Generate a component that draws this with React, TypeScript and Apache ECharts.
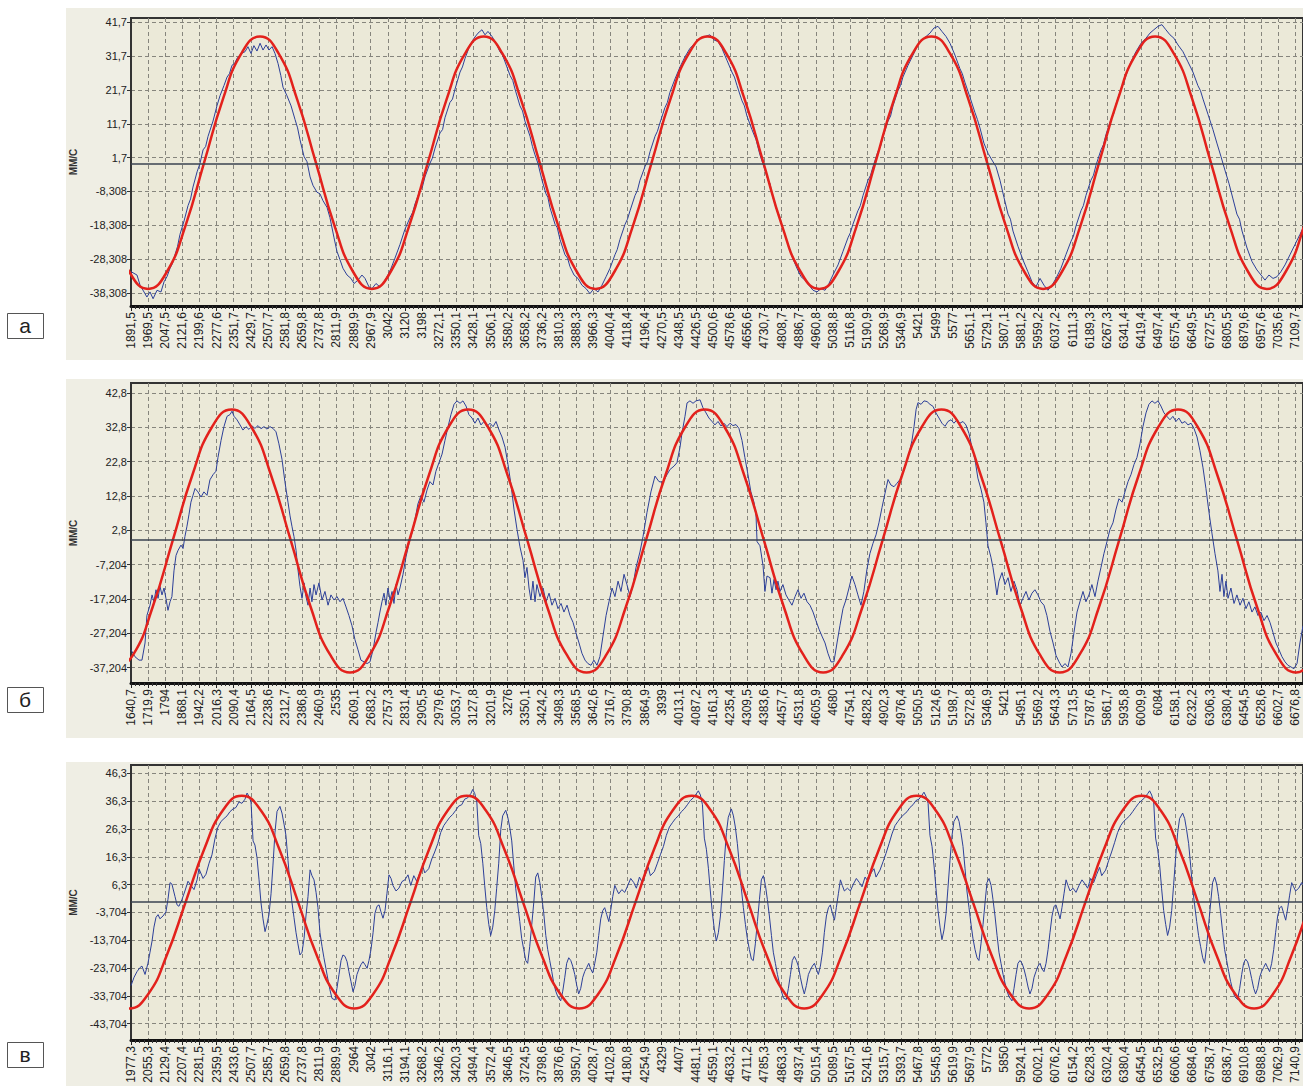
import React, { useEffect, useRef } from "react";
import * as echarts from "echarts";

// ---------- DATA ----------
const xLabelsA = ["1891,5","1969,5","2047,5","2121,6","2199,6","2277,6","2351,7","2429,7","2507,7","2581,8","2659,8","2737,8","2811,9","2889,9","2967,9","3042","3120","3198","3272,1","3350,1","3428,1","3506,1","3580,2","3658,2","3736,2","3810,3","3888,3","3966,3","4040,4","4118,4","4196,4","4270,5","4348,5","4426,5","4500,6","4578,6","4656,6","4730,7","4808,7","4886,7","4960,8","5038,8","5116,8","5190,9","5268,9","5346,9","5421","5499","5577","5651,1","5729,1","5807,1","5881,2","5959,2","6037,2","6111,3","6189,3","6267,3","6341,4","6419,4","6497,4","6575,4","6649,5","6727,5","6805,5","6879,6","6957,6","7035,6","7109,7"];
const xLabelsB = ["1640,7","1719,9","1794","1868,1","1942,2","2016,3","2090,4","2164,5","2238,6","2312,7","2386,8","2460,9","2535","2609,1","2683,2","2757,3","2831,4","2905,5","2979,6","3053,7","3127,8","3201,9","3276","3350,1","3424,2","3498,3","3568,5","3642,6","3716,7","3790,8","3864,9","3939","4013,1","4087,2","4161,3","4235,4","4309,5","4383,6","4457,7","4531,8","4605,9","4680","4754,1","4828,2","4902,3","4976,4","5050,5","5124,6","5198,7","5272,8","5346,9","5421","5495,1","5569,2","5643,3","5713,5","5787,6","5861,7","5935,8","6009,9","6084","6158,1","6232,2","6306,3","6380,4","6454,5","6528,6","6602,7","6676,8"];
const xLabelsC = ["1977,3","2055,3","2129,4","2207,4","2281,5","2359,5","2433,6","2507,7","2585,7","2659,8","2737,8","2811,9","2889,9","2964","3042","3116,1","3194,1","3268,2","3346,2","3420,3","3494,4","3572,4","3646,5","3724,5","3798,6","3876,6","3950,7","4028,7","4102,8","4180,8","4254,9","4329","4407","4481,1","4559,1","4633,2","4711,2","4785,3","4863,3","4937,4","5015,4","5089,5","5167,5","5241,6","5315,7","5393,7","5467,8","5545,8","5619,9","5697,9","5772","5850","5924,1","6002,1","6076,2","6154,2","6228,3","6302,4","6380,4","6454,5","6532,5","6606,6","6684,6","6758,7","6836,7","6910,8","6988,8","7062,9","7140,9"];

const yTicksA = [41.7, 31.7, 21.7, 11.7, 1.7, -8.308, -18.308, -28.308, -38.308];
const yTicksB = [42.8, 32.8, 22.8, 12.8, 2.8, -7.204, -17.204, -27.204, -37.204];
const yTicksC = [46.3, 36.3, 26.3, 16.3, 6.3, -3.704, -13.704, -23.704, -33.704, -43.704];

const yRangeA = [-42.15, 42.97];
const yRangeB = [-41.66, 45.71];
const yRangeC = [-49.56, 49.28];
const xMax = 68.46;

const panelLetters = ["а", "б", "в"];
const yAxisName = "ММ/С";

// red reference sinusoids, read every 30 degrees of phase
const redA = [[-1.18,-18.45],[-0.09,-32.1],[1.00,-37.1],[2.09,-32.1],[3.18,-18.45],[4.27,0.2],[5.36,18.85],[6.45,32.5],[7.54,37.5],[8.62,32.5],[9.71,18.85],[10.80,0.2],[11.89,-18.45],[12.98,-32.1],
[14.07,-37.1],[15.16,-32.1],[16.25,-18.45],[17.34,0.2],[18.43,18.85],[19.52,32.5],[20.61,37.5],[21.69,32.5],[22.78,18.85],[23.87,0.2],[24.96,-18.45],[26.05,-32.1],
[27.14,-37.1],[28.23,-32.1],[29.32,-18.45],[30.41,0.2],[31.50,18.85],[32.59,32.5],[33.68,37.5],[34.77,32.5],[35.85,18.85],[36.94,0.2],[38.03,-18.45],[39.12,-32.1],
[40.21,-37.1],[41.30,-32.1],[42.39,-18.45],[43.48,0.2],[44.57,18.85],[45.66,32.5],[46.75,37.5],[47.84,32.5],[48.92,18.85],[50.01,0.2],[51.10,-18.45],[52.19,-32.1],
[53.28,-37.1],[54.37,-32.1],[55.46,-18.45],[56.55,0.2],[57.64,18.85],[58.73,32.5],[59.82,37.5],[60.91,32.5],[62.00,18.85],[63.08,0.2],[64.17,-18.45],[65.26,-32.1],
[66.35,-37.1],[67.44,-32.1],[68.53,-18.45],[69.62,0.2]];
const redB = [[-1.03,-38.6],[0.12,-33.5],[1.27,-19.45],[2.43,-0.3],[3.58,18.85],[4.73,32.9],[5.88,38.0],[7.03,32.9],[8.18,18.85],[9.34,-0.3],[10.49,-19.45],[11.64,-33.5],
[12.79,-38.6],[13.94,-33.5],[15.09,-19.45],[16.25,-0.3],[17.40,18.85],[18.55,32.9],[19.70,38.0],[20.85,32.9],[22.00,18.85],[23.16,-0.3],[24.31,-19.45],[25.46,-33.5],
[26.61,-38.6],[27.76,-33.5],[28.91,-19.45],[30.07,-0.3],[31.22,18.85],[32.37,32.9],[33.52,38.0],[34.67,32.9],[35.82,18.85],[36.98,-0.3],[38.13,-19.45],[39.28,-33.5],
[40.43,-38.6],[41.58,-33.5],[42.73,-19.45],[43.89,-0.3],[45.04,18.85],[46.19,32.9],[47.34,38.0],[48.49,32.9],[49.64,18.85],[50.80,-0.3],[51.95,-19.45],[53.10,-33.5],
[54.25,-38.6],[55.40,-33.5],[56.55,-19.45],[57.71,-0.3],[58.86,18.85],[60.01,32.9],[61.16,38.0],[62.31,32.9],[63.46,18.85],[64.62,-0.3],[65.77,-19.45],[66.92,-33.5],
[68.07,-38.6],[69.22,-33.5]];
const redC = [[-1.20,-33.1],[-0.10,-38.2],[1.00,-33.1],[2.09,-19.1],[3.19,0],[4.28,19.1],[5.38,33.1],[6.47,38.2],[7.57,33.1],[8.66,19.1],[9.76,0],[10.85,-19.1],[11.95,-33.1],
[13.04,-38.2],[14.14,-33.1],[15.23,-19.1],[16.33,0],[17.42,19.1],[18.52,33.1],[19.61,38.2],[20.71,33.1],[21.80,19.1],[22.90,0],[23.99,-19.1],[25.09,-33.1],
[26.18,-38.2],[27.28,-33.1],[28.37,-19.1],[29.47,0],[30.56,19.1],[31.66,33.1],[32.75,38.2],[33.85,33.1],[34.94,19.1],[36.04,0],[37.13,-19.1],[38.23,-33.1],
[39.32,-38.2],[40.42,-33.1],[41.51,-19.1],[42.61,0],[43.70,19.1],[44.80,33.1],[45.89,38.2],[46.99,33.1],[48.08,19.1],[49.18,0],[50.27,-19.1],[51.37,-33.1],
[52.46,-38.2],[53.56,-33.1],[54.65,-19.1],[55.75,0],[56.84,19.1],[57.94,33.1],[59.03,38.2],[60.13,33.1],[61.22,19.1],[62.32,0],[63.41,-19.1],[64.51,-33.1],
[65.60,-38.2],[66.70,-33.1],[67.79,-19.1],[68.89,0],[69.98,19.1]];

// measured signals
const blueA = [[0.00,-32],[0.35,-33],[0.53,-36],[0.76,-38],[0.93,-39.5],[1.11,-38],[1.29,-40],[1.52,-37.5],[1.75,-38],[1.93,-35],[2.1,-33.5],[2.28,-31],[2.43,-29.5],[2.57,-27],[2.72,-24.5],[2.86,-21],[3.10,-17],[3.33,-12.5],[3.48,-10.5],[3.62,-7],[3.86,-2.5],[4.03,0],[4.21,4],[4.36,5],[4.50,8],[4.79,12.5],[5.02,17],[5.20,20],[5.43,23],[5.61,25.5],[5.75,26.5],[5.90,29],[6.05,29.5],[6.19,31],[6.43,32.5],[6.66,33],[6.83,34.5],[7.01,32.5],[7.18,34.8],[7.36,33.2],[7.54,35.5],[7.71,33.5],[7.89,35],[8.06,33.5],[8.24,34.5],[8.41,32.5],[8.59,29.5],[8.75,26],[8.88,22.5],[9.11,20],[9.35,17],[9.58,13],[9.73,10.5],[9.87,7],[10.11,2],[10.28,0.5],[10.46,-4],[10.63,-6.5],[10.86,-8.5],[11.04,-9],[11.21,-11],[11.45,-13],[11.62,-16],[11.86,-22],[12.03,-26],[12.21,-28.5],[12.38,-31],[12.62,-33],[12.85,-34],[13.03,-35.5],[13.26,-34.5],[13.49,-33],[13.67,-34],[13.90,-36.5],[14.08,-37],[14.31,-35.5],[14.54,-36.5],[14.78,-35],[15.01,-33],[15.19,-31],[15.42,-28],[15.71,-24],[16.00,-19.5],
[16.30,-16],[16.45,-14.5],[16.59,-12],[16.88,-8],[17.02,-7],[17.17,-4],[17.46,0],[17.6,1.5],[17.76,4.5],[18.05,9],[18.2,10],[18.34,13.5],[18.63,18],[18.78,19],[18.93,22],[19.22,27],[19.36,28.5],[19.51,31],[19.80,35],[20.04,37],[20.27,38.5],[20.5,39.5],[20.68,38],[20.85,39],[21.09,37.5],[21.32,35.5],[21.55,33],[21.7,32],[21.85,30],[22.14,26],[22.3,24.5],[22.43,22],[22.72,17],[22.87,15.5],[23.01,12.5],[23.31,8],[23.45,5],[23.6,2.5],[23.77,0],[24.01,-5],[24.24,-9],[24.35,-10],[24.47,-13],[24.77,-18],[24.9,-19],[25.06,-22.5],[25.35,-27],[25.5,-28],[25.64,-30.5],[25.88,-33],[26.11,-34],[26.34,-36],[26.58,-37],[26.81,-38.5],[27.04,-37],[27.28,-38],[27.51,-36],[27.75,-33.5],[27.98,-31],[28.27,-27],[28.4,-25.5],[28.56,-22.5],
[28.86,-18],[29.0,-16.5],[29.15,-14],[29.44,-9.5],[29.58,-8],[29.73,-5],[30.02,-1],[30.17,0.5],[30.32,3.5],[30.61,8],[30.75,9.5],[30.9,12],[31.19,16.5],[31.33,18],[31.48,21],[31.78,25],[32.07,28.5],[32.36,31.5],[32.65,34],[32.94,35.5],[33.24,37],[33.53,37.5],[33.82,38],[34.05,36.5],[34.29,36],[34.52,34],[34.81,30.5],[35.10,27],[35.25,25.5],[35.40,23],[35.69,18.5],[35.83,17],[35.98,14],[36.27,10],[36.51,7],[36.74,2.5],[36.97,-1],[37.21,-5],[37.33,-6],[37.44,-9],[37.73,-14],[37.88,-15.5],[38.03,-18.5],[38.32,-23],[38.61,-27.5],[38.9,-31],[39.14,-33.5],[39.37,-34.5],[39.6,-36],[39.84,-37.5],[40.07,-38],[40.3,-37],[40.54,-37.5],[40.77,-35.5],[41.0,-33],[41.3,-30],[41.59,-26],
[41.88,-22],[42.02,-20.5],[42.17,-18],[42.46,-14],[42.6,-12.5],[42.76,-9.5],[43.05,-5],[43.2,-3.5],[43.34,-1],[43.63,3.5],[43.78,5],[43.93,8],[44.22,12.5],[44.37,14],[44.51,17],[44.8,21.5],[44.95,23],[45.09,25.5],[45.39,29],[45.68,32],[45.97,35],[46.2,36.5],[46.44,37.5],[46.67,38.5],[46.9,40],[47.14,40.5],[47.37,39],[47.61,37.5],[47.84,35.5],[48.13,32],[48.42,28],[48.56,26.5],[48.71,24],[49.01,19.5],[49.3,15],[49.44,13],[49.59,10.5],[49.82,6],[50.06,3],[50.29,1],[50.53,-1],[50.76,-5],[50.99,-10],[51.23,-15],[51.37,-16.5],[51.52,-20],[51.81,-24.5],[52.1,-28.5],[52.39,-32],[52.63,-35],[52.86,-36.5],[53.1,-34],[53.33,-36],[53.56,-37.5],[53.8,-36],[54.03,-34],[54.32,-31],[54.61,-27],
[54.91,-23],[55.05,-21.5],[55.2,-18.5],[55.49,-14],[55.63,-12.5],[55.78,-9.5],[56.07,-5],[56.22,-3.5],[56.37,-0.5],[56.66,4],[56.8,5.5],[56.95,8.5],[57.24,13],[57.39,14.5],[57.54,17.5],[57.83,22],[57.97,23.5],[58.12,26],[58.41,30],[58.7,33],[59.0,35.5],[59.29,37],[59.52,38.5],[59.75,39.5],[59.99,40.5],[60.22,41],[60.45,39.5],[60.69,38],[60.92,37],[61.16,35],[61.45,33],[61.74,30],[62.03,27],[62.32,23],[62.47,21.5],[62.62,19],[62.91,14.5],[63.2,10],[63.43,6],[63.67,2],[63.9,-2],[64.14,-6],[64.37,-10.5],[64.6,-15],[64.75,-16.5],[64.9,-20],[65.19,-25],[65.48,-29],[65.77,-31.5],[66.01,-33],[66.24,-34.5],[66.47,-33],[66.71,-34],[66.94,-33.5],[67.17,-32],[67.41,-30],[67.7,-27],[67.99,-24],[68.28,-21],[68.57,-18]];

const blueB = [[0.00,-32],[0.23,-34],[0.47,-35],[0.64,-35],[0.82,-30],[0.93,-22],[1.11,-19],[1.23,-16],[1.34,-18],[1.46,-14.5],[1.58,-17],[1.69,-13.5],[1.81,-16],[1.93,-14],[2.04,-17],[2.16,-20.5],[2.28,-18],[2.39,-16.5],[2.51,-9],[2.63,-4.5],[2.75,-3],[2.92,-1.5],[3.04,-2.5],[3.15,1],[3.27,4],[3.39,7.5],[3.50,11],[3.62,13],[3.74,15],[3.91,14],[4.09,12.5],[4.26,14],[4.44,13],[4.61,17.5],[4.79,19],[4.96,20],[5.08,24],[5.26,29],[5.43,33],[5.61,36],[5.78,36.5],[5.90,37.5],[6.02,36],[6.19,35],[6.37,33.5],[6.54,32],[6.72,33],[6.89,32.2],[7.07,33.2],[7.24,32.5],[7.42,33.3],[7.59,32.4],[7.77,33],[7.94,32.3],[8.12,33],[8.29,32.5],[8.47,31.5],[8.64,28],[8.82,23.5],[8.99,17],[9.17,11],[9.29,7],[9.40,4],[9.52,1],[9.64,-3],[9.75,-8.5],[9.87,-13.5],[9.99,-17],[10.11,-12.5],[10.22,-16.5],[10.34,-19],[10.46,-14],[10.57,-18],[10.69,-13],[10.81,-16],[10.98,-12.5],[11.16,-17.5],[11.33,-15],[11.51,-19],[11.68,-16],[11.86,-17.5],[12.03,-16.5],[12.21,-18],[12.38,-17],[12.56,-19.5],[12.73,-22],[12.91,-25],[13.08,-29],[13.26,-32],[13.43,-35],[13.61,-35.5],[13.79,-36],[13.96,-35.5],[14.14,-32],[14.31,-27],[14.43,-24],[14.54,-21],[14.66,-18],[14.78,-15.5],[14.89,-19],[15.01,-14],[15.13,-17.5],[15.25,-15],[15.36,-18.5],[15.48,-13],[15.60,-16],[15.71,-14],
[15.89,-10],[16.06,-5],[16.24,-1],[16.41,2],[16.59,6],[16.76,10.5],[16.94,13],[17.11,11],[17.29,14.5],[17.46,17],[17.64,16],[17.81,20],[17.99,22.5],[18.17,25],[18.34,29],[18.52,33],[18.69,36.5],[18.87,39.5],[19.04,40.5],[19.22,39.8],[19.39,40.5],[19.57,39],[19.74,36.5],[19.92,35.5],[20.09,34],[20.27,35.5],[20.44,33.5],[20.62,34.5],[20.79,33],[20.97,34],[21.15,33],[21.32,34.5],[21.50,32],[21.67,30],[21.85,27],[22.02,22],[22.20,16],[22.37,9],[22.55,3],[22.72,-2],[22.90,-6],[23.01,-11],[23.13,-8],[23.25,-14],[23.36,-17.5],[23.48,-12],[23.60,-18],[23.71,-13],[23.89,-16.5],[24.07,-14],[24.24,-18],[24.42,-15.5],[24.59,-19],[24.77,-17],[24.94,-20],[25.12,-18.5],[25.29,-21],[25.47,-19],[25.64,-22],[25.82,-24],[25.99,-27],[26.17,-30],[26.34,-33],[26.52,-35],[26.69,-36],[26.87,-36.5],[27.04,-35],[27.22,-36.5],[27.39,-34],[27.57,-28],[27.75,-22],[27.92,-18],[28.10,-14],[28.27,-16.5],[28.45,-12],[28.62,-15],[28.80,-10],[28.97,-13],[29.15,-16.5],[29.33,-13],[29.50,-8],[29.73,-3.5],
[29.91,1],[30.14,8],[30.37,14],[30.61,18.6],[30.84,17],[31.07,16.8],[31.31,19],[31.48,20.5],[31.72,21.5],[31.89,22.5],[32.07,27],[32.18,31],[32.36,36],[32.48,39.9],[32.65,40.5],[32.83,39.8],[33.00,40.5],[33.24,40.8],[33.41,38.5],[33.59,37],[33.76,35.5],[33.94,34.5],[34.11,33.5],[34.29,34.5],[34.46,33.2],[34.64,34],[34.81,33],[34.99,34],[35.16,33.3],[35.34,33.6],[35.51,32.5],[35.69,29],[35.86,24],[36.04,19],[36.21,14],[36.39,11],[36.51,7],[36.57,-0.5],[36.74,-1.7],[36.92,-7.5],[37.03,-15],[37.15,-10.5],[37.33,-11],[37.44,-15.5],[37.56,-11.5],[37.68,-14.5],[37.79,-12],[37.91,-15],[38.08,-13],[38.26,-16],[38.43,-17.5],[38.61,-19],[38.79,-16.5],[38.96,-14.5],[39.14,-17],[39.31,-15.5],[39.49,-18],[39.66,-19],[39.84,-21],[40.01,-23.5],[40.19,-26],[40.36,-28],[40.54,-30],[40.71,-33],[40.89,-35.5],[41.06,-35.5],[41.24,-30],[41.41,-25],[41.59,-20],[41.76,-17.5],[41.94,-14],[42.11,-10.5],[42.29,-13],[42.46,-16],[42.64,-19],[42.81,-15],[42.99,-8.5],[43.16,-4],[43.34,-1],[43.52,1.5],[43.69,5],[43.87,9.5],[44.04,13.5],[44.22,17.6],[44.39,16],[44.57,15.5],[44.74,16.5],[44.92,17.6],[45.09,19.5],[45.27,22],[45.44,25],[45.62,29],[45.74,33],[45.86,38],[45.97,40],[46.15,39.5],[46.32,40.5],[46.50,40.3],[46.67,39.5],[46.85,38.9],[47.02,37],[47.20,35.5],[47.37,34],[47.55,33.1],[47.72,34.5],[47.90,35],[48.07,34],[48.25,35],[48.42,34],[48.60,34.5],[48.77,33.5],[48.95,31],[49.12,27],[49.30,23.4],[49.47,18],[49.65,14.8],[49.82,11],[49.94,5],[50.06,-1.7],[50.23,-5],[50.35,-8],[50.47,-12],[50.58,-16],[50.70,-12],[50.88,-9.5],[51.05,-13],[51.23,-11],[51.40,-15],[51.58,-12],[51.75,-14.5],[51.93,-19],[52.10,-17],[52.28,-15],[52.45,-17.5],[52.63,-15.5],[52.80,-14.5],[52.98,-16],[53.15,-18],[53.33,-19],[53.50,-22],[53.68,-26.6],[53.86,-30],[54.03,-33.6],[54.21,-35.5],[54.38,-37],[54.56,-36],[54.73,-37],[54.91,-33],[55.08,-27],[55.26,-21],[55.43,-18],[55.61,-15],[55.78,-18],[55.96,-16],[56.13,-13],[56.31,-16.5],[56.48,-12],[56.66,-8],[56.83,-4],[57.01,-0.5],[57.18,3],[57.36,5],[57.54,9],[57.71,12],[57.89,11],[58.06,14],[58.24,17],[58.41,19],[58.59,22],[58.76,24],[58.94,28],[59.11,33],[59.29,37],[59.46,39.5],[59.64,40.5],[59.81,39.8],[59.99,40.5],[60.16,39],[60.34,37],[60.51,36],[60.69,35],[60.86,36],[61.04,34.5],[61.21,35.5],[61.39,34],[61.57,34.5],[61.74,33.5],[61.92,34],[62.09,32.5],[62.27,30],[62.44,26],[62.62,21],[62.79,15],[62.97,8],[63.14,2],[63.32,-4],[63.49,-9],[63.61,-15],[63.73,-10],[63.84,-16.5],[63.96,-12],[64.08,-17],[64.25,-14],[64.43,-18.5],[64.60,-16],[64.78,-19],[64.95,-17],[65.13,-20],[65.30,-18],[65.48,-21],[65.65,-19.5],[65.83,-22],[66.00,-21],[66.18,-23.5],[66.36,-22],[66.53,-24],[66.71,-27],[66.88,-30],[67.06,-32],[67.23,-34],[67.41,-35.5],[67.58,-36.5],[67.76,-37],[67.93,-37.5],[68.11,-36],[68.28,-30],[68.46,-25]];

const blueC = [[0.00,-30],[0.18,-27],[0.35,-25],[0.53,-23.5],[0.64,-23],[0.82,-26],[0.99,-22],[1.11,-18],[1.23,-14],[1.34,-9],[1.46,-5.5],[1.58,-4.5],[1.69,-6],[1.87,-5],[2.04,-3.5],[2.16,1],[2.28,7],[2.39,6.5],[2.57,2],[2.69,-1],[2.80,-1.5],[2.98,1],[3.15,4],[3.33,7.5],[3.50,6],[3.68,4.5],[3.86,8],[3.97,12],[4.21,8.5],[4.38,10],[4.56,14],[4.73,17],[4.91,23],[5.08,27],[5.26,29],[5.43,30],[5.61,31],[5.78,32.5],[5.96,33.5],[6.13,34],[6.31,36],[6.48,35.5],[6.66,37],[6.78,39.2],[6.89,38],[7.01,36],[7.13,22],[7.24,20.5],[7.36,16],[7.48,8],[7.59,0],[7.71,-6],[7.83,-10.6],[7.94,-8],[8.06,-4.5],[8.18,3],[8.29,13],[8.41,25],[8.53,32.6],[8.70,34.4],[8.82,32],[8.94,28],[9.05,24],[9.17,15],[9.29,6.5],[9.40,0],[9.52,-5.5],[9.64,-11],[9.75,-15],[9.87,-19],[9.99,-18],[10.11,-13],[10.22,-5],[10.34,2],[10.46,11.6],[10.57,9.5],[10.69,8],[10.81,3.5],[10.92,-2],[11.04,-11],[11.16,-16],[11.27,-20],[11.39,-24],[11.51,-28],[11.62,-31.5],[11.74,-34.6],[11.92,-35.2],[12.03,-31],[12.15,-26],[12.27,-21],[12.38,-19],[12.50,-19.5],[12.62,-21.4],[12.73,-25],[12.85,-28.6],[12.97,-32.2],[13.08,-30],[13.20,-26],[13.32,-24],[13.43,-22.5],[13.55,-21.4],[13.67,-22.5],[13.79,-23.8],[13.90,-21],[14.02,-17],[14.14,-11],[14.25,-4],[14.37,-1.5],[14.49,-1],[14.60,-3.5],[14.72,-5.8],[14.84,-3],[14.95,3],[15.07,9.8],[15.19,8.5],[15.30,6],[15.48,4],[15.65,5],[15.83,7.4],[16.00,8],[16.18,9.8],
[16.34,6],[16.52,9.5],[16.69,7.5],[16.87,10.5],[17.04,13],[17.16,10.5],[17.39,12],[17.57,15.5],[17.74,18],[17.92,21],[18.09,25],[18.27,27.5],[18.44,29],[18.62,30.5],[18.79,31.5],[18.97,33],[19.14,34.5],[19.32,35],[19.49,37],[19.67,37.5],[19.85,39],[19.96,40.5],[20.08,39],[20.20,36],[20.31,24],[20.43,21],[20.55,14],[20.66,6],[20.78,-2],[20.90,-8],[21.01,-12],[21.13,-9],[21.25,-3],[21.36,5],[21.48,14],[21.60,26],[21.71,31],[21.89,33],[22.01,30.5],[22.12,27],[22.24,22],[22.36,13],[22.47,5],[22.59,-1],[22.71,-7],[22.82,-13],[22.94,-17],[23.06,-21],[23.17,-22],[23.29,-16],[23.41,-8],[23.53,0],[23.64,9],[23.76,10.5],[23.88,7],[23.99,2],[24.11,-4],[24.23,-12],[24.34,-17],[24.46,-21],[24.58,-25],[24.69,-29],[24.81,-32],[24.93,-34],[25.10,-35.5],[25.22,-32],[25.34,-27],[25.45,-22],[25.57,-20],[25.69,-21],[25.80,-23],[25.92,-26],[26.04,-30],[26.15,-33],[26.27,-31],[26.39,-27],[26.50,-25],[26.62,-23.5],[26.74,-22],[26.85,-24],[26.97,-25.5],[27.09,-22],[27.21,-18],[27.32,-12],[27.44,-6],[27.56,-3],[27.67,-2],[27.79,-4.5],[27.91,-7],[28.02,-3],[28.14,2],[28.26,6],[28.37,4.5],[28.49,3],[28.67,4.5],[28.84,3.5],[29.02,6],[29.19,8.5],[29.37,7],
[29.52,5],[29.70,9],[29.87,7],[30.05,10],[30.22,12.5],[30.34,9.5],[30.57,11],[30.75,14],[30.92,17],[31.10,20],[31.27,24],[31.45,27],[31.62,28.5],[31.80,30],[31.97,31],[32.15,32.5],[32.32,33.5],[32.50,35],[32.67,36.5],[32.85,37.5],[33.03,39],[33.14,40],[33.26,38.5],[33.38,35],[33.49,23],[33.61,19],[33.73,12],[33.84,4],[33.96,-4],[34.08,-10],[34.19,-14],[34.31,-11],[34.43,-5],[34.54,4],[34.66,15],[34.78,25],[34.89,30.5],[35.07,33.5],[35.19,31],[35.30,27],[35.42,21],[35.54,13],[35.65,5],[35.77,-2],[35.89,-8],[36.00,-13],[36.12,-17],[36.24,-20.5],[36.35,-21],[36.47,-15],[36.59,-7],[36.71,1],[36.82,8],[36.94,9.5],[37.06,6],[37.17,1],[37.29,-5],[37.41,-12],[37.52,-18],[37.64,-22],[37.76,-26],[37.87,-29],[37.99,-32],[38.11,-34.5],[38.28,-35],[38.40,-31],[38.52,-26],[38.63,-21],[38.75,-19.5],[38.87,-21],[38.98,-23],[39.10,-27],[39.22,-30.5],[39.33,-33],[39.45,-30],[39.57,-26],[39.68,-24.5],[39.80,-23],[39.92,-22],[40.03,-24],[40.15,-26],[40.27,-23],[40.39,-18],[40.50,-11],[40.62,-5],[40.74,-2],[40.85,-1],[40.97,-4],[41.09,-6.5],[41.20,-2],[41.32,3],[41.44,8],[41.55,6],[41.67,4],[41.85,5],[42.02,4],[42.20,6.5],[42.37,8.5],[42.55,7],
[42.70,5.5],[42.88,9],[43.05,7.5],[43.23,10.5],[43.40,12],[43.52,9],[43.75,11.5],[43.93,14.5],[44.10,17.5],[44.28,21],[44.45,24.5],[44.63,27.5],[44.80,29],[44.98,30.5],[45.15,31.5],[45.33,32.5],[45.50,34],[45.68,35],[45.85,36.5],[46.03,37],[46.21,38.5],[46.32,39.5],[46.44,38],[46.56,35.5],[46.67,24],[46.79,20],[46.91,13],[47.02,5],[47.14,-3],[47.26,-9],[47.37,-13.5],[47.49,-10],[47.61,-4],[47.72,5],[47.84,15],[47.96,24],[48.07,29],[48.25,31],[48.37,29],[48.48,25],[48.60,20],[48.72,12],[48.83,4],[48.95,-2],[49.07,-8],[49.18,-13],[49.30,-17],[49.42,-20],[49.53,-21],[49.65,-15],[49.77,-8],[49.89,0],[50.00,7],[50.12,8.5],[50.24,6],[50.35,1],[50.47,-5],[50.59,-12],[50.70,-18],[50.82,-22],[50.94,-26],[51.05,-29],[51.17,-32],[51.29,-34],[51.46,-35.5],[51.58,-31],[51.70,-26],[51.81,-22],[51.93,-21],[52.05,-22],[52.16,-24],[52.28,-27],[52.40,-30.5],[52.51,-33],[52.63,-31],[52.75,-27],[52.86,-25],[52.98,-23],[53.10,-22],[53.21,-24],[53.33,-25],[53.45,-22],[53.57,-17],[53.68,-11],[53.80,-5],[53.92,-1.5],[54.03,-1],[54.15,-3.5],[54.27,-6],[54.38,-2],[54.50,3],[54.62,8],[54.73,6],[54.85,4],[55.03,5],[55.20,3.5],[55.38,6],[55.55,8],[55.73,6.5],
[55.88,5],[56.06,8.5],[56.23,7],[56.41,10],[56.58,12.5],[56.70,9.5],[56.93,11.5],[57.11,15],[57.28,18],[57.46,21.5],[57.63,25],[57.81,27.5],[57.98,29],[58.16,30],[58.33,31],[58.51,32.5],[58.68,34],[58.86,35.5],[59.03,36.5],[59.21,37.5],[59.39,39],[59.50,40],[59.62,38.5],[59.74,36],[59.85,23],[59.97,19],[60.09,13],[60.20,5],[60.32,-3],[60.44,-8],[60.55,-12],[60.67,-9],[60.79,-3],[60.90,6],[61.02,16],[61.14,25],[61.25,30],[61.43,32],[61.55,30],[61.66,26],[61.78,21],[61.90,13],[62.01,5],[62.13,-1],[62.25,-7],[62.36,-12],[62.48,-16],[62.60,-20],[62.71,-22],[62.83,-16],[62.95,-8],[63.07,0],[63.18,7],[63.30,9],[63.42,6.5],[63.53,2],[63.65,-4],[63.77,-11],[63.88,-17],[64.00,-21],[64.12,-25],[64.23,-28.5],[64.35,-31.5],[64.47,-34],[64.64,-35],[64.76,-31],[64.88,-26],[64.99,-22],[65.11,-20.5],[65.23,-21.5],[65.34,-24],[65.46,-27.5],[65.58,-31],[65.69,-33],[65.81,-31],[65.93,-27],[66.04,-25],[66.16,-23.5],[66.28,-22],[66.39,-23.5],[66.51,-25],[66.63,-22],[66.75,-17],[66.86,-11],[66.98,-5],[67.10,-2],[67.21,-1.5],[67.33,-4],[67.45,-6.5],[67.56,-2.5],[67.68,2.5],[67.80,7],[67.91,5.5],[68.03,4],[68.21,5],[68.38,7],[68.50,6]];

// ---------- LAYOUT / STYLE ----------
const W = 1303;
const H = 1086;
const GRID_LEFT = 131;
const BLUE = "#2c3f98";
const RED = "#e3211c";
const DASH = "#86857d";
const PLOT_BG = "#ebe9d8";
const PANEL_BG = "#efeee4";
const FONT = '"Liberation Sans", Arial, sans-serif';

const layout = [
  { top: 18, height: 288, bgTop: 8, bgHeight: 352, letterTop: 313 },
  { top: 383, height: 300, bgTop: 379, bgHeight: 359, letterTop: 687 },
  { top: 765, height: 275, bgTop: 762, bgHeight: 324, letterTop: 1042 },
];

const panelData = [
  { labels: xLabelsA, ticks: yTicksA, range: yRangeA, blue: blueA, red: redA },
  { labels: xLabelsB, ticks: yTicksB, range: yRangeB, blue: blueB, red: redB },
  { labels: xLabelsC, ticks: yTicksC, range: yRangeC, blue: blueC, red: redC },
];

function buildOption() {
  const grid = layout.map((l) => ({
    left: GRID_LEFT,
    top: l.top,
    width: W - GRID_LEFT,
    height: l.height,
    show: true,
    backgroundColor: PLOT_BG,
    borderColor: "#333333",
    borderWidth: 2,
  }));

  const xAxis = panelData.map((p, i) => ({
    type: "value",
    gridIndex: i,
    min: 0,
    max: xMax,
    interval: 1,
    axisLine: { onZero: false, lineStyle: { color: "#111", width: 3 } },
    axisTick: { show: true, length: 5, lineStyle: { color: "#222", width: 1 } },
    minorTick: { show: true, splitNumber: 4, length: 3, lineStyle: { color: "#333" } },
    minorSplitLine: { show: false },
    splitLine: { show: true, lineStyle: { color: DASH, type: [4, 3], width: 1 } },
    axisLabel: {
      rotate: 90,
      margin: 6,
      fontSize: 12,
      color: "#222",
      fontFamily: FONT,
      formatter: (v: number) => {
        const k = Math.round(v);
        return Math.abs(v - k) < 1e-6 ? p.labels[k] ?? "" : "";
      },
    },
  }));

  const yAxis = panelData.map((p, i) => ({
    type: "value",
    gridIndex: i,
    min: p.range[0],
    max: p.range[1],
    name: yAxisName,
    nameLocation: "middle",
    nameRotate: 90,
    nameGap: 50,
    nameTextStyle: { fontSize: 10, color: "#333", fontWeight: "bold", fontFamily: FONT },
    axisLine: { show: true, lineStyle: { color: "#333", width: 1 } },
    axisTick: { show: true, length: 4, customValues: p.ticks, lineStyle: { color: "#333" } },
    splitLine: { show: true, lineStyle: { color: DASH, type: [4, 3], width: 1 } },
    axisLabel: {
      customValues: p.ticks,
      margin: 4,
      fontSize: 11,
      color: "#222",
      fontFamily: FONT,
      formatter: (v: number) => String(v).replace(".", ","),
    },
  }));

  const series: any[] = [];
  panelData.forEach((p, i) => {
    series.push({
      type: "line",
      xAxisIndex: i,
      yAxisIndex: i,
      data: p.blue,
      symbol: "none",
      showSymbol: false,
      lineStyle: { color: BLUE, width: 1 },
      z: 2,
      markLine: {
        silent: true,
        symbol: ["none", "none"],
        label: { show: false },
        lineStyle: { color: "#3a4250", width: 1.5, type: "solid" },
        data: [{ yAxis: 0 }],
      },
    });
    series.push({
      type: "line",
      xAxisIndex: i,
      yAxisIndex: i,
      data: p.red,
      smooth: true,
      symbol: "none",
      showSymbol: false,
      lineStyle: { color: RED, width: 2.5 },
      z: 3,
    });
  });

  const graphic: any[] = [];
  layout.forEach((l, i) => {
    graphic.push({
      type: "rect",
      left: 7,
      top: l.letterTop,
      shape: { width: 36, height: 25 },
      style: { fill: "#ffffff", stroke: "#555", lineWidth: 1 },
    });
    graphic.push({
      type: "text",
      x: 25,
      y: l.letterTop + 12.5,
      style: {
        text: panelLetters[i],
        fill: "#222",
        fontSize: 21,
        fontFamily: '"Liberation Sans Narrow", "Liberation Sans", sans-serif',
        align: "center",
        verticalAlign: "middle",
      },
    });
  });

  return {
    animation: false,
    backgroundColor: "transparent",
    textStyle: { fontFamily: FONT },
    grid,
    xAxis,
    yAxis,
    series,
    graphic,
  };
}

export default function App() {
  const ref = useRef<HTMLDivElement>(null);
  useEffect(() => {
    if (!ref.current) return;
    const chart = echarts.init(ref.current, undefined, { renderer: "svg" });
    chart.setOption(buildOption() as any);
    return () => chart.dispose();
  }, []);
  return (
    <div style={{ position: "absolute", left: 0, top: 0, width: W, height: H, background: "#ffffff", overflow: "hidden" }}>
      {layout.map((l, i) => (
        <div
          key={i}
          style={{ position: "absolute", left: 66, top: l.bgTop, width: W - 66, height: l.bgHeight, background: PANEL_BG }}
        />
      ))}
      <div ref={ref} style={{ position: "absolute", left: 0, top: 0, width: W, height: H }} />
    </div>
  );
}
